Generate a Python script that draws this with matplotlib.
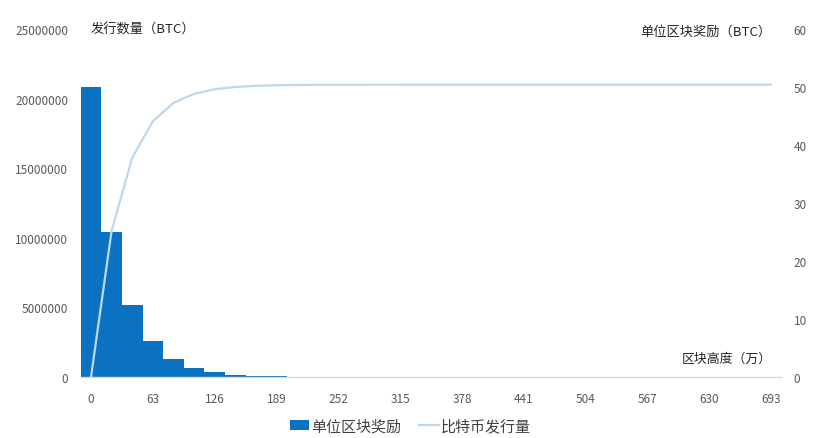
import matplotlib
matplotlib.use("Agg")
import matplotlib.pyplot as plt
from matplotlib.patches import Patch
from matplotlib.lines import Line2D

plt.rcParams['font.family'] = ['Noto Sans CJK SC', 'DejaVu Sans']

categories = [0, 21, 42, 63, 84, 105, 126, 147, 168, 189, 210, 231, 252, 273,
              294, 315, 336, 357, 378, 399, 420, 441, 462, 483, 504, 525, 546,
              567, 588, 609, 630, 651, 672, 693]

block_reward = [50, 25, 12.5, 6.25, 3.125, 1.5625, 0.78125, 0.390625, 0.1953125,
                0.0977, 0.0488, 0.0244, 0.0122, 0.0061, 0.0031, 0.0015, 0.0008,
                0.0004, 0.0002, 0.0001, 0.00005, 0.00002, 0.00001, 0.000005,
                0.000003, 0.000001, 0.0000007, 0.0000004, 0.0000002, 0.0000001,
                0.00000005, 0.00000002, 0.00000001, 0.0]

issued = [0, 10500000, 15750000, 18375000, 19687500, 20343750, 20671875,
          20835938, 20917969, 20958984, 20979492, 20989746, 20994873, 20997437,
          20998718, 20999359, 20999680, 20999840, 20999920, 20999960, 20999980,
          20999990, 20999995, 20999998, 20999999, 20999999, 21000000, 21000000,
          21000000, 21000000, 21000000, 21000000, 21000000, 21000000]

left_ticks = [0, 5000000, 10000000, 15000000, 20000000, 25000000]
right_ticks = [0, 10, 20, 30, 40, 50, 60]

bar_color = '#0A72C0'
line_color = '#BDD7EE'
tick_color = '#595959'

W, H = 829, 439
fig = plt.figure(figsize=(W / 100, H / 100), dpi=100)
ax = fig.add_axes([80.7 / W, 61 / H, 700.6 / W, 348 / H])
ax2 = ax.twinx()

x = list(range(len(categories)))
ax2.bar(x, block_reward, width=1.0, color=bar_color, linewidth=0)
ax.plot(x, issued, color=line_color, linewidth=1.6)

ax.set_zorder(ax2.get_zorder() + 1)
ax.patch.set_visible(False)

ax.set_xlim(-0.5, len(categories) - 0.5)
ax.set_ylim(0, 25000000)
ax2.set_ylim(0, 60)
ax.set_yticks(left_ticks)
ax.set_yticklabels([str(v) for v in left_ticks])
ax2.set_yticks(right_ticks)
ax2.set_yticklabels([str(v) for v in right_ticks])
ax.set_xticks(x[::3])
ax.set_xticklabels([str(c) for c in categories[::3]])

for a in (ax, ax2):
    for s in a.spines.values():
        s.set_visible(False)
    a.tick_params(length=0, labelsize=8.5, labelcolor=tick_color)
ax.spines['bottom'].set_visible(True)
ax.spines['bottom'].set_color('#D9D9D9')
ax.spines['bottom'].set_linewidth(1.0)
ax.tick_params(axis='y', pad=9)
ax.tick_params(axis='x', pad=11)
ax2.tick_params(axis='y', pad=9)

ax.text(10.3 / 700.6, 1.0, '发行数量（BTC）', transform=ax.transAxes,
        ha='left', va='center', fontsize=9.5, color='#262626')
ax.text(1 - 10.3 / 700.6, 0.995, '单位区块奖励（BTC）', transform=ax.transAxes,
        ha='right', va='center', fontsize=9.5, color='#262626')
ax.text(1 - 9.3 / 700.6, 0.055, '区块高度（万）', transform=ax.transAxes,
        ha='right', va='center', fontsize=9.3, color='#262626')

handles = [Patch(facecolor=bar_color, edgecolor='none'),
           Line2D([0], [0], color=line_color, linewidth=1.6)]
fig.legend(handles, ['单位区块奖励', '比特币发行量'], loc='center',
           bbox_to_anchor=(0.495, 1 - 427 / H), ncol=2, frameon=False,
           fontsize=10.8, handlelength=1.3, handleheight=0.7,
           handletextpad=0.15, columnspacing=1.2, labelcolor='#404040')

fig.savefig('out.png', dpi=100)
